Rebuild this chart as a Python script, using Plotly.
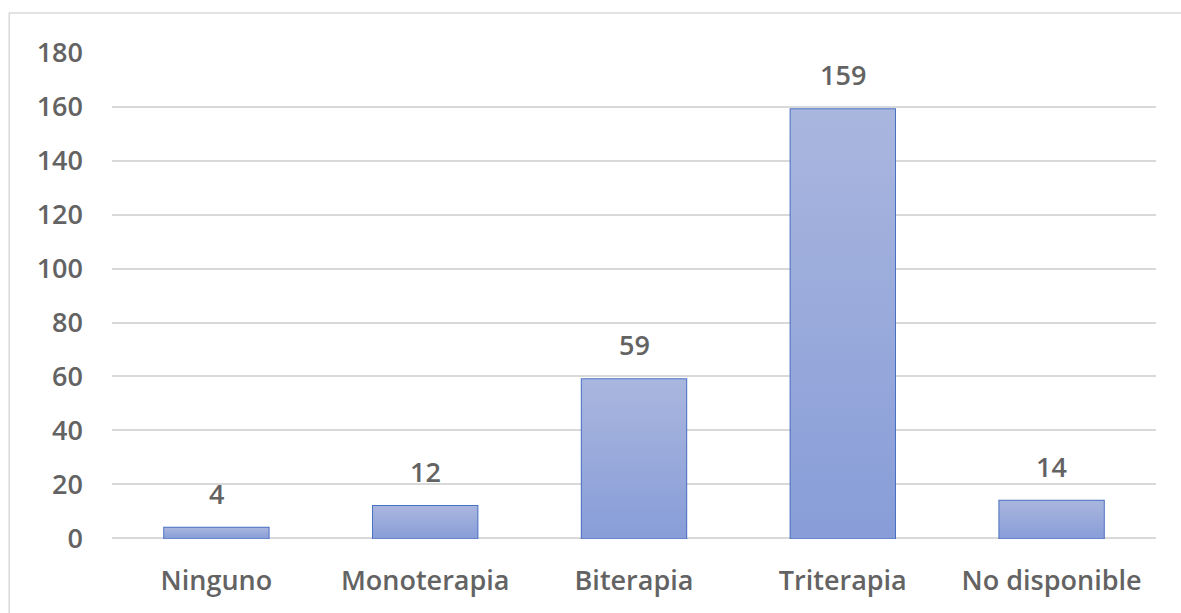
import plotly.graph_objects as go

# Treatment categories and patient counts
categories = ["Ninguno", "Monoterapia", "Biterapia", "Triterapia", "No disponible"]
counts = [4, 12, 59, 159, 14]
y_ticks = [0, 20, 40, 60, 80, 100, 120, 140, 160, 180]

BAR_WIDTH = 0.5
TEXT_COLOR = "#636363"
FONT = "Open Sans"
positions = list(range(len(categories)))

fig = go.Figure()

# Gradient-filled bar bodies (light at top, darker at the base)
for i, v in zip(positions, counts):
    x0, x1 = i - BAR_WIDTH / 2, i + BAR_WIDTH / 2
    fig.add_trace(go.Scatter(
        x=[x0, x1, x1, x0, x0],
        y=[0, 0, v, v, 0],
        mode="lines",
        line=dict(width=0),
        fill="toself",
        fillgradient=dict(type="vertical", start=0, stop=v,
                          colorscale=[[0, "#889dd8"], [1, "#a9b6de"]]),
        hoverinfo="skip",
        showlegend=False,
    ))

# Bar outlines
fig.add_trace(go.Bar(
    x=positions,
    y=counts,
    width=BAR_WIDTH,
    marker=dict(color="rgba(0,0,0,0)", line=dict(color="#4a70c2", width=2)),
    showlegend=False,
    hovertemplate="%{y}<extra></extra>",
))

# Value labels above bars
for i, v in zip(positions, counts):
    fig.add_annotation(
        x=i, y=v, text=str(v), showarrow=False,
        yanchor="bottom", yshift=14,
        font=dict(family=FONT, size=27, color=TEXT_COLOR, weight=600),
    )

# Outer chart frame
fig.add_shape(
    type="rect", xref="paper", yref="paper",
    x0=-0.0985, x1=1.05, y0=-0.2, y1=1.080,
    line=dict(color="#dadada", width=1.5), fillcolor="rgba(0,0,0,0)",
    layer="below",
)

fig.update_layout(
    width=1181, height=613,
    margin=dict(l=112, r=25, t=52, b=74),
    paper_bgcolor="white", plot_bgcolor="white",
    xaxis=dict(
        range=[-0.5, 4.5],
        tickmode="array", tickvals=positions, ticktext=categories,
        showgrid=False, zeroline=False, showline=False, ticks="",
        ticklabelstandoff=23,
        tickfont=dict(family=FONT, size=27, color=TEXT_COLOR, weight=600),
        fixedrange=True,
    ),
    yaxis=dict(
        range=[-0.2, 180.2],
        tickmode="array", tickvals=y_ticks,
        showgrid=True, gridcolor="#d9d9d9", gridwidth=1.5,
        zeroline=True, zerolinecolor="#d9d9d9", zerolinewidth=1.5,
        showline=False, ticks="",
        ticklabelstandoff=28,
        tickfont=dict(family=FONT, size=27, color=TEXT_COLOR, weight=600),
        fixedrange=True,
    ),
)

fig.write_html("out.html")
